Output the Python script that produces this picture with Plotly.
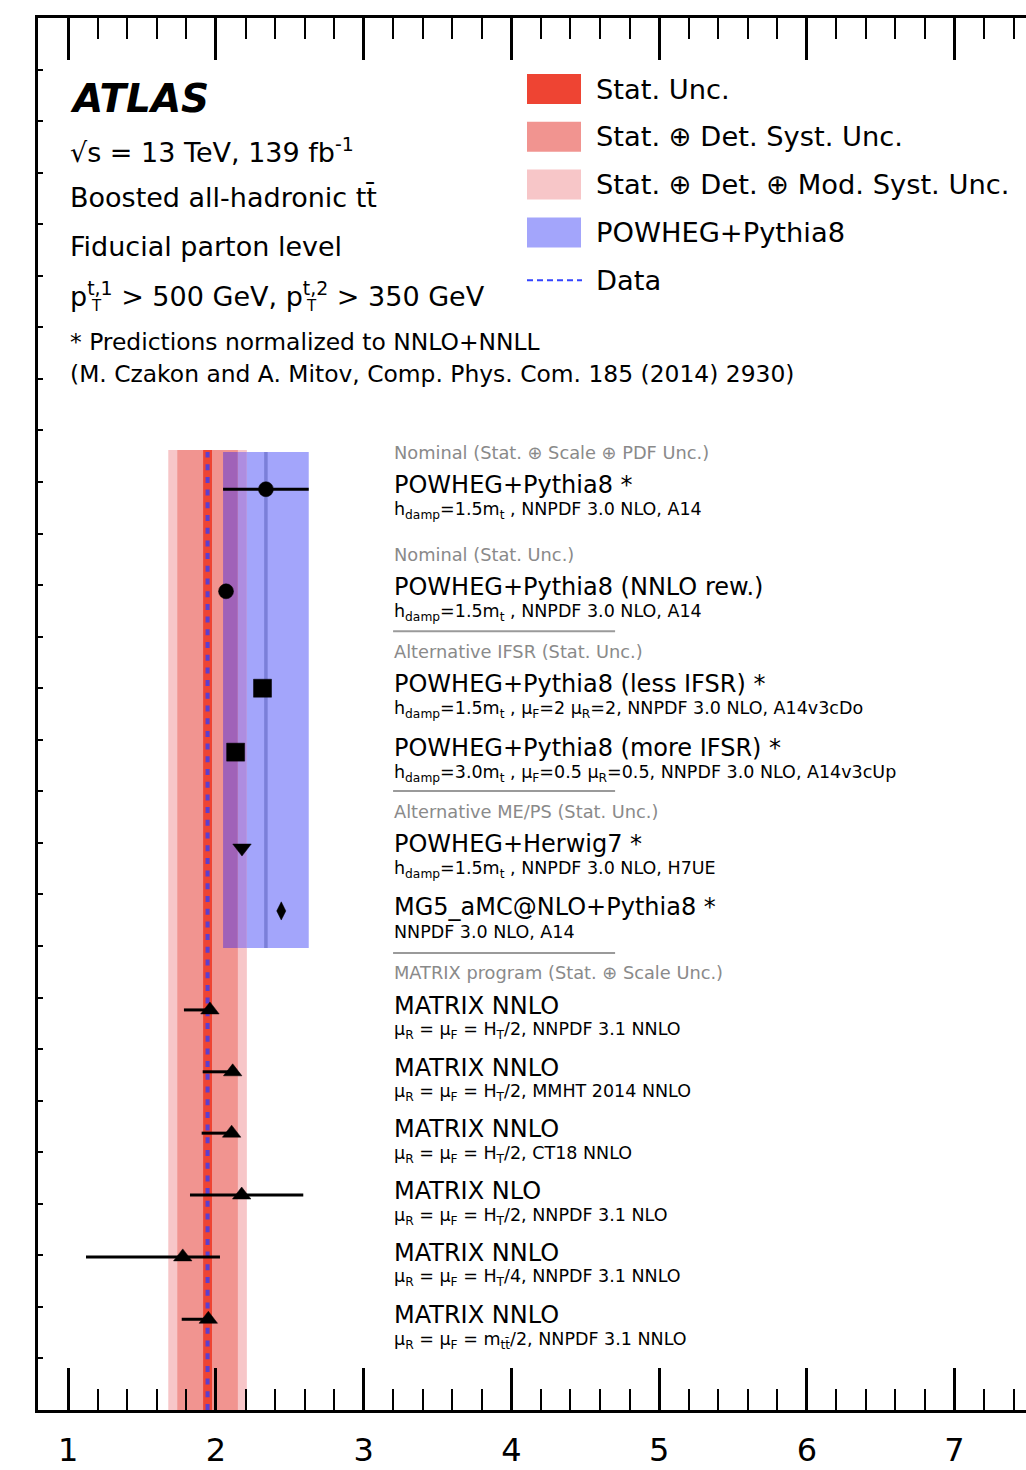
import plotly.graph_objects as go

# ---------------- measurement ----------------
data_value = 1.943
data_stat = 0.030          # Stat. Unc.
data_stat_det = 0.205      # Stat. (+) Det. Syst. Unc.
data_total = 0.266         # Stat. (+) Det. (+) Mod. Syst. Unc.

# ---------------- predictions ----------------
pred_names = [
    "POWHEG+Pythia8 *",
    "POWHEG+Pythia8 (NNLO rew.)",
    "POWHEG+Pythia8 (less IFSR) *",
    "POWHEG+Pythia8 (more IFSR) *",
    "POWHEG+Herwig7 *",
    "MG5_aMC@NLO+Pythia8 *",
    "MATRIX NNLO",
    "MATRIX NNLO",
    "MATRIX NNLO",
    "MATRIX NLO",
    "MATRIX NNLO",
    "MATRIX NNLO",
]
pred_details = [
    "h<sub>damp</sub>=1.5m<sub>t</sub> , NNPDF 3.0 NLO, A14",
    "h<sub>damp</sub>=1.5m<sub>t</sub> , NNPDF 3.0 NLO, A14",
    "h<sub>damp</sub>=1.5m<sub>t</sub> , μ<sub>F</sub>=2 μ<sub>R</sub>=2, NNPDF 3.0 NLO, A14v3cDo",
    "h<sub>damp</sub>=3.0m<sub>t</sub> , μ<sub>F</sub>=0.5 μ<sub>R</sub>=0.5, NNPDF 3.0 NLO, A14v3cUp",
    "h<sub>damp</sub>=1.5m<sub>t</sub> , NNPDF 3.0 NLO, H7UE",
    "NNPDF 3.0 NLO, A14",
    "μ<sub>R</sub> = μ<sub>F</sub> = H<sub>T</sub>/2, NNPDF 3.1 NNLO",
    "μ<sub>R</sub> = μ<sub>F</sub> = H<sub>T</sub>/2, MMHT 2014 NNLO",
    "μ<sub>R</sub> = μ<sub>F</sub> = H<sub>T</sub>/2, CT18 NNLO",
    "μ<sub>R</sub> = μ<sub>F</sub> = H<sub>T</sub>/2, NNPDF 3.1 NLO",
    "μ<sub>R</sub> = μ<sub>F</sub> = H<sub>T</sub>/4, NNPDF 3.1 NNLO",
    "μ<sub>R</sub> = μ<sub>F</sub> = m<sub>tt̄</sub>/2, NNPDF 3.1 NNLO",
]
pred_values = [2.338, 2.068, 2.315, 2.133, 2.176, 2.442,
               1.959, 2.113, 2.106, 2.174, 1.775, 1.948]
pred_err_minus = [0.290, 0.0, 0.0, 0.0, 0.0, 0.0,
                  0.176, 0.203, 0.203, 0.350, 0.655, 0.180]
pred_err_plus = [0.290, 0.0, 0.0, 0.0, 0.0, 0.0,
                 0.012, 0.005, 0.005, 0.417, 0.252, 0.005]

# group headers: (first row of the group, text, separator line above)
group_headers = [
    (0, "Nominal (Stat. ⊕ Scale ⊕ PDF Unc.)", False),
    (1, "Nominal (Stat. Unc.)", False),
    (2, "Alternative IFSR (Stat. Unc.)", True),
    (4, "Alternative ME/PS (Stat. Unc.)", True),
    (6, "MATRIX program (Stat. ⊕ Scale Unc.)", True),
]

legend_labels = [
    "Stat. Unc.",
    "Stat. ⊕ Det. Syst. Unc.",
    "Stat. ⊕ Det. ⊕ Mod. Syst. Unc.",
    "POWHEG+Pythia8",
    "Data",
]

info_lines = [
    "√s = 13 TeV, 139 fb<sup>-1</sup>",
    "Boosted all-hadronic tt̄",
    "Fiducial parton level",
    "p<sup>t,1</sup> > 500 GeV, p<sup>t,2</sup> > 350 GeV",
]
note_lines = [
    "* Predictions normalized to NNLO+NNLL",
    "(M. Czakon and A. Mitov, Comp. Phys. Com. 185 (2014) 2930)",
]

x_tick_values = [1, 2, 3, 4, 5, 6, 7]

# ---------------- layout / style ----------------
W, H = 1026, 1470
ML, MT, MB = 38, 18, 60
X_RANGE = [0.795, 7.484]
Y_RANGE = [0, 27]

row_y = [17.86, 15.88, 14.00, 12.76, 10.90, 9.68,
         7.76, 6.56, 5.37, 4.17, 2.97, 1.76]
row_symbols = ["circle", "circle", "square", "square", "triangle-down",
               "diamond-tall", "triangle-up", "triangle-up", "triangle-up",
               "triangle-up", "triangle-up", "triangle-up"]
row_sizes = [15, 15, 18, 18, 16, 13, 16, 16, 16, 16, 16, 16]

BAND_TOP = 18.62
BOX_TOP, BOX_BOTTOM = 18.58, 8.96
LABEL_X = 3.199

C_STAT = "#ee4433"
C_DET = "#f19490"
C_MOD = "#f7c6c8"
C_BLUE = "#a3a5fb"
C_PURPLE_DARK = "#a062b8"
C_PURPLE_LIGHT = "#ae8de0"
C_BLUE_LINE = "#7b7fd8"
C_DATA = "#5a3fd0"
FONT = "DejaVu Sans"


def paper_x(px):
    return (px - ML) / (W - ML)


def paper_y(py):
    return (H - MB - py) / (H - MT - MB)


fig = go.Figure()
shapes = []

# measurement uncertainty bands
for half, col in [(data_total, C_MOD), (data_stat_det, C_DET), (data_stat, C_STAT)]:
    shapes.append(dict(type="rect", xref="x", yref="y", layer="below",
                       x0=data_value - half, x1=data_value + half,
                       y0=0, y1=BAND_TOP, fillcolor=col, line_width=0))

# POWHEG+Pythia8 nominal prediction band (blended where it crosses the red bands)
bx0 = pred_values[0] - pred_err_minus[0]
bx1 = pred_values[0] + pred_err_plus[0]
det_hi = data_value + data_stat_det
tot_hi = data_value + data_total
pieces = [
    (bx0, min(bx1, det_hi), C_PURPLE_DARK),
    (max(bx0, det_hi), min(bx1, tot_hi), C_PURPLE_LIGHT),
    (max(bx0, tot_hi), bx1, C_BLUE),
]
for a, b, col in pieces:
    if b > a:
        shapes.append(dict(type="rect", xref="x", yref="y", layer="below",
                           x0=a, x1=b, y0=BOX_BOTTOM, y1=BOX_TOP,
                           fillcolor=col, line_width=0))
shapes.append(dict(type="line", xref="x", yref="y", layer="below",
                   x0=pred_values[0], x1=pred_values[0], y0=BOX_BOTTOM, y1=BOX_TOP,
                   line=dict(color=C_BLUE_LINE, width=3.5)))

# data central value
shapes.append(dict(type="line", xref="x", yref="y", layer="below",
                   x0=data_value, x1=data_value, y0=0, y1=BOX_TOP,
                   line=dict(color=C_DATA, width=4, dash="6px,6.7px")))

# predictions
fig.add_trace(go.Scatter(
    x=pred_values, y=row_y, mode="markers",
    marker=dict(symbol=row_symbols, size=row_sizes, color="#000000", opacity=1,
                line=dict(width=0.5, color="#000000")),
    error_x=dict(type="data", symmetric=False, array=pred_err_plus,
                 arrayminus=pred_err_minus, color="#000000", thickness=3, width=0),
    showlegend=False, hoverinfo="skip",
))
# carrier for the top (mirrored) axis with its minor ticks
fig.add_trace(go.Scatter(x=[X_RANGE[0]], y=[Y_RANGE[0]], xaxis="x2", mode="markers",
                         marker=dict(opacity=0), showlegend=False, hoverinfo="skip"))

annotations = []
for yv, name, detail in zip(row_y, pred_names, pred_details):
    annotations.append(dict(xref="x", yref="y", x=LABEL_X, y=yv, yshift=4,
                            text=name, showarrow=False, xanchor="left", yanchor="middle",
                            borderpad=0,
                            font=dict(family=FONT, size=24, color="black")))
    annotations.append(dict(xref="x", yref="y", x=LABEL_X, y=yv, yshift=-21,
                            text=detail, showarrow=False, xanchor="left", yanchor="middle",
                            borderpad=0,
                            font=dict(family=FONT, size=17.5, color="black")))

for idx, text, sep in group_headers:
    annotations.append(dict(xref="x", yref="y", x=LABEL_X, y=row_y[idx], yshift=37,
                            text=text, showarrow=False, xanchor="left", yanchor="middle",
                            borderpad=0,
                            font=dict(family=FONT, size=17.8, color="#8a8a8a")))
    if sep:
        sep_y = row_y[idx] + 57 / 51.56
        shapes.append(dict(type="line", xref="x", yref="y",
                           x0=LABEL_X, x1=LABEL_X + 222 / 147.7, y0=sep_y, y1=sep_y,
                           line=dict(color="#9a9a9a", width=2)))

# ATLAS label and info block
annotations.append(dict(xref="paper", yref="paper", x=paper_x(68), y=paper_y(98),
                        text="<b><i>ATLAS</i></b>", showarrow=False,
                        xanchor="left", yanchor="middle",
                        font=dict(family=FONT, size=39, color="black")))
for i, line in enumerate(info_lines):
    annotations.append(dict(xref="paper", yref="paper", x=paper_x(68), y=paper_y(150 + 48 * i),
                            text=line, showarrow=False, xanchor="left", yanchor="middle",
                            font=dict(family=FONT, size=27, color="black")))
for px_sub in (89, 304):
    annotations.append(dict(xref="paper", yref="paper", x=paper_x(px_sub), y=paper_y(306),
                            text="T", showarrow=False, xanchor="left", yanchor="middle",
                            font=dict(family=FONT, size=15, color="black")))
for i, line in enumerate(note_lines):
    annotations.append(dict(xref="paper", yref="paper", x=paper_x(68), y=paper_y(342 + 32 * i),
                            text=line, showarrow=False, xanchor="left", yanchor="middle",
                            font=dict(family=FONT, size=23.4, color="black")))

# legend
legend_colors = [C_STAT, C_DET, C_MOD, C_BLUE]
for i, lab in enumerate(legend_labels):
    cy = 89 + 47.8 * i
    if i < len(legend_colors):
        shapes.append(dict(type="rect", xref="paper", yref="paper",
                           x0=paper_x(527), x1=paper_x(581),
                           y0=paper_y(cy + 15), y1=paper_y(cy - 15),
                           fillcolor=legend_colors[i], line_width=0))
    else:
        shapes.append(dict(type="line", xref="paper", yref="paper",
                           x0=paper_x(527), x1=paper_x(582),
                           y0=paper_y(cy), y1=paper_y(cy),
                           line=dict(color="#3344ff", width=2, dash="6px,4px")))
    annotations.append(dict(xref="paper", yref="paper", x=paper_x(594), y=paper_y(cy),
                            text=lab, showarrow=False, xanchor="left", yanchor="middle",
                            font=dict(family=FONT, size=27.3, color="black")))

axis_common = dict(range=X_RANGE, showgrid=False, zeroline=False,
                   showline=True, linecolor="black", linewidth=2.5,
                   ticks="inside", ticklen=42, tickwidth=2.5, tickcolor="black",
                   tickvals=x_tick_values,
                   minor=dict(dtick=0.2, ticks="inside", ticklen=21, tickwidth=2,
                              tickcolor="black", showgrid=False),
                   fixedrange=True)

fig.update_layout(
    width=W, height=H,
    margin=dict(l=ML, r=0, t=MT, b=MB, pad=0),
    paper_bgcolor="white", plot_bgcolor="white",
    shapes=shapes, annotations=annotations,
    showlegend=False,
    xaxis=dict(**axis_common, mirror=False,
               ticktext=[str(v) for v in x_tick_values],
               tickfont=dict(family=FONT, size=32, color="black"),
               ticklabelstandoff=10),
    xaxis2=dict(**axis_common, overlaying="x", side="top", mirror=False,
                showticklabels=False, matches="x"),
    yaxis=dict(range=Y_RANGE, showgrid=False, zeroline=False,
               showline=True, linecolor="black", linewidth=2.5, mirror=False,
               ticks="inside", ticklen=5, tickwidth=1.5, tickcolor="black",
               tickvals=list(range(0, 28)), showticklabels=False,
               fixedrange=True),
)

fig.write_html("out.html")
